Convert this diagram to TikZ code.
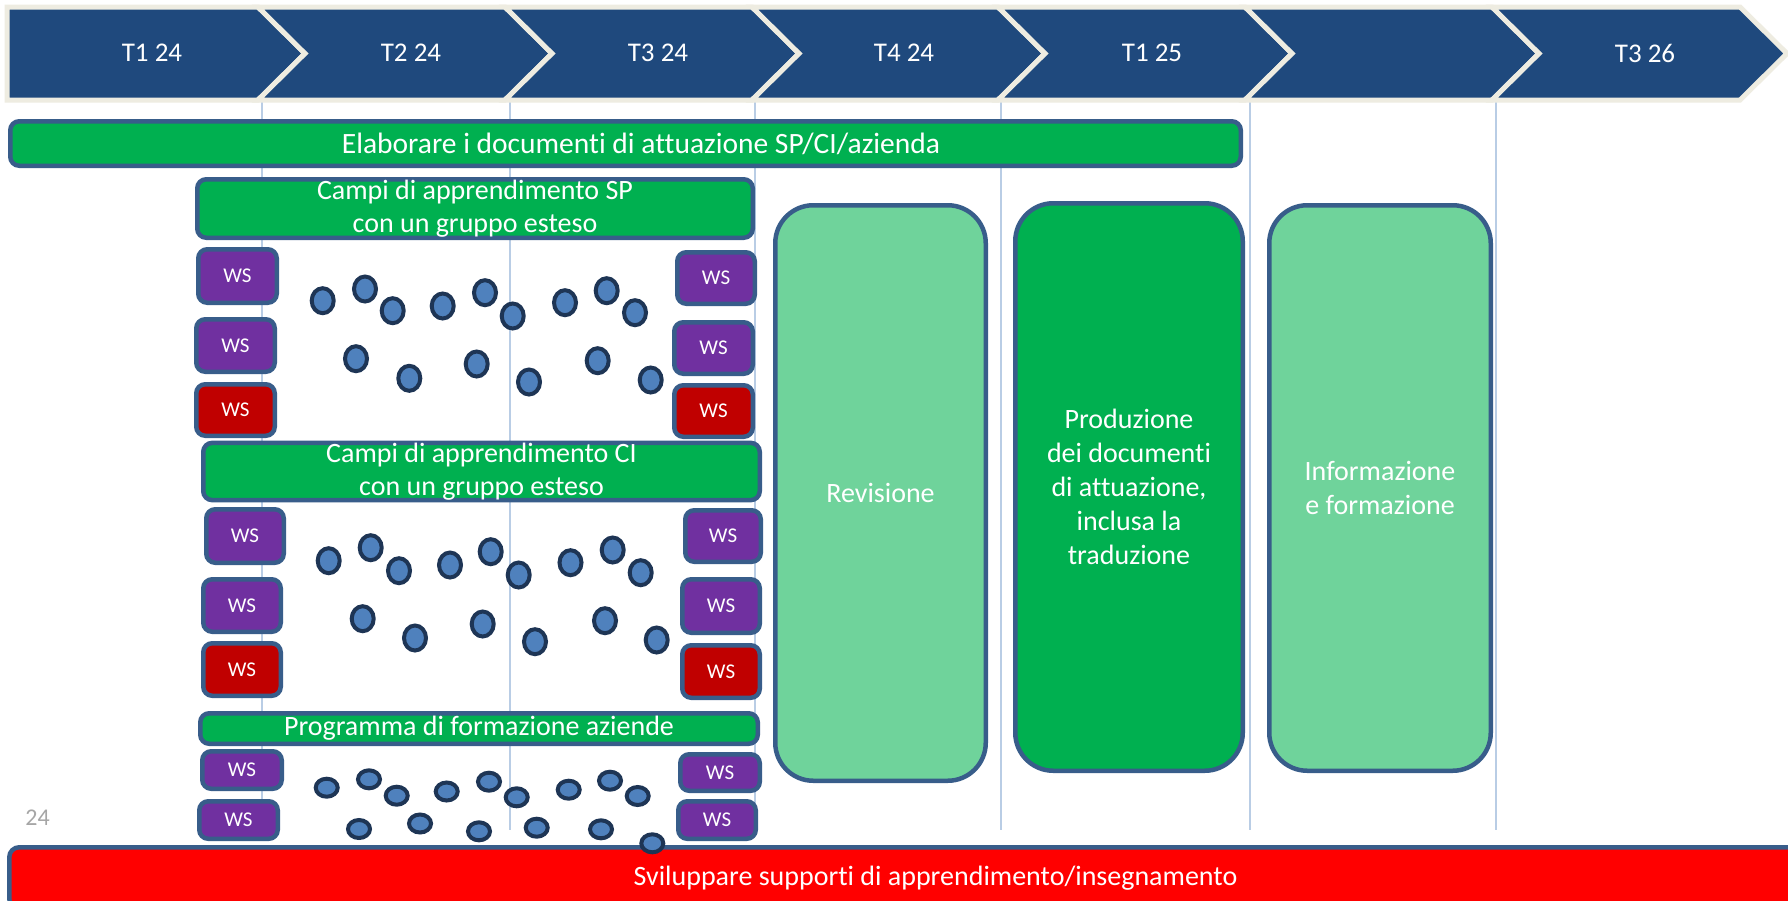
\documentclass[tikz,border=0pt]{standalone}
\usepackage{fontspec}
\setmainfont{Carlito}[Ligatures=NoCommon]
\usetikzlibrary{shapes.geometric}
\definecolor{chev}{HTML}{1F497D}
\definecolor{cream}{HTML}{EEECE1}
\definecolor{edge}{HTML}{385D8A}
\definecolor{grn}{HTML}{00B050}
\definecolor{mint}{HTML}{6FD39B}
\definecolor{wsp}{HTML}{7030A0}
\definecolor{wsr}{HTML}{C00000}
\definecolor{dotf}{HTML}{4F81BD}
\definecolor{dote}{HTML}{1E3555}
\definecolor{vln}{HTML}{B9CDE5}
\definecolor{pgnum}{HTML}{A6A6A6}
\newcommand\mybox[7]{\node[#1, minimum width={#5-#3-4.5}, minimum height={#6-#4-4.5}] (#2) at ({(#3+#5)/2},{(#4+#6)/2}) {#7};}
\begin{document}
\begin{tikzpicture}[x=1pt,y=-1pt,
  basebox/.style={draw=edge, line width=4.5pt, inner sep=0pt, outer sep=0pt, text=white, align=center},
  gbar/.style={basebox, fill=grn, rounded corners=9pt, font=\fontsize{28}{33}\selectfont},
  bigbox/.style={basebox, rounded corners=38pt, font=\fontsize{28}{34}\selectfont},
  wsbox/.style={basebox, rounded corners=9pt, font=\fontsize{21}{21}\selectfont},
  redbar/.style={basebox, fill=red, rounded corners=10pt, font=\fontsize{28}{33}\selectfont},
  chevshape/.style={fill=chev, draw=cream, line width=5pt, line join=miter},
  chevtxt/.style={text=white, font=\fontsize{27}{27}\selectfont, inner sep=0pt},
  dotsp/.style={ellipse, draw=dote, fill=dotf, line width=4pt, minimum width=22pt, minimum height=25pt, inner sep=0pt},
  dotaz/.style={ellipse, draw=dote, fill=dotf, line width=4pt, minimum width=22pt, minimum height=18pt, inner sep=0pt},
  vline/.style={draw=vln, line width=1.5pt}]
\useasboundingbox (0,0) rectangle (1788,900);
\clip (0,0) rectangle (1788,900);
\fill[white] (0,0) rectangle (1788,900);
% vertical grid lines
\foreach \x in {262,510,755,1001,1250,1496} \draw[vline] (\x,100) -- (\x,830);
% chevrons
\draw[chevshape] (7,7) -- (258,7) -- (305,53.5) -- (258,100) -- (7,100) -- cycle;
\foreach \l/\r in {258/505,505/752,752/998,998/1245,1245/1492,1492/1740}
  \draw[chevshape] (\l,7) -- (\r,7) -- ({\r+47},53.5) -- (\r,100) -- (\l,100) -- ({\l+47},53.5) -- cycle;
\node[chevtxt] (q1) at (152,53) {T1 24};
\node[chevtxt] (q2) at (411,53) {T2 24};
\node[chevtxt] (q3) at (658,53) {T3 24};
\node[chevtxt] (q4) at (904,53) {T4 24};
\node[chevtxt] (q5) at (1152,53) {T1 25};
\node[chevtxt] (q7) at (1645,53) {T3 26};
% top green bar
\mybox{gbar}{elab}{8}{119}{1243}{168}{\hspace*{31pt}\fontsize{29.5}{33}\selectfont Elaborare i documenti di attuazione SP/CI/azienda}
% SP block
\mybox{gbar}{campisp}{195}{177}{755}{240}{Campi di apprendimento SP\\con un gruppo esteso}
\mybox{wsbox, fill=wsp}{spl1}{196}{247}{279}{305}{WS}
\mybox{wsbox, fill=wsp}{spl2}{194}{317}{277}{374}{WS}
\mybox{wsbox, fill=wsr}{spl3}{194}{382}{277}{438}{WS}
\mybox{wsbox, fill=wsp}{spr1}{675}{250}{757}{306}{WS}
\mybox{wsbox, fill=wsp}{spr2}{672}{320}{755}{376}{WS}
\mybox{wsbox, fill=wsr}{spr3}{672}{383}{755}{439}{WS}
\foreach \x/\y [count=\i] in {322.7/300.7,365/289,392.7/310.7,442.7/306,485/292.7,512.7/316,565/302.7,606.7/290.7,635/312.7,356/358.7,409.3/378.3,476.7/364,529/382,597.7/360.7,650.7/380}
  \node[dotsp] (sp\i) at (\x,\y) {};
% CI block
\mybox{gbar}{campici}{201}{443}{762}{500}{Campi di apprendimento CI\\con un gruppo esteso}
\mybox{wsbox, fill=wsp}{cil1}{204}{507}{286}{565}{WS}
\mybox{wsbox, fill=wsp}{cil2}{201}{577}{283}{634}{WS}
\mybox{wsbox, fill=wsr}{cil3}{201}{641}{283}{698}{WS}
\mybox{wsbox, fill=wsp}{cir1}{683}{508}{763}{564}{WS}
\mybox{wsbox, fill=wsp}{cir2}{680}{577}{762}{635}{WS}
\mybox{wsbox, fill=wsr}{cir3}{680}{643}{762}{700}{WS}
\foreach \x/\y [count=\i] in {328.7/560.7,370.7/547.7,399/570.7,450/565,490.7/551.7,518.7/575,570.5/562.7,612.7/550,640.7/572.7,362.7/618.7,415/638,482.7/624,535/641.7,605/620.7,656.7/640}
  \node[dotsp] (ci\i) at (\x,\y) {};
% aziende block
\mybox{gbar}{prog}{198}{711}{760}{746}{Programma di formazione aziende}
\mybox{wsbox, fill=wsp}{azl1}{200}{749}{284}{791}{WS}
\mybox{wsbox, fill=wsp}{azl2}{197}{799}{280}{841}{WS}
\mybox{wsbox, fill=wsp}{azr1}{678}{752}{762}{793}{WS}
\mybox{wsbox, fill=wsp}{azr2}{676}{799}{758}{841}{WS}
\foreach \x/\y [count=\i] in {326.7/787.7,369/779.3,396.7/795.7,446.7/791.5,489/781.7,516.7/797.3,568.7/789.7,610/780.7,637.7/796,359/829,420/823.5,479/831.3,536.7/827.7,601/829.3}
  \node[dotaz] (az\i) at (\x,\y) {};
% big columns
\mybox{bigbox, fill=mint}{rev}{773}{203}{988}{783}{Revisione}
\mybox{bigbox, fill=grn}{prod}{1013}{201}{1245}{773}{Produzione\\dei documenti\\di attuazione,\\inclusa la\\traduzione}
\mybox{bigbox, fill=mint}{info}{1267}{203}{1493}{773}{Informazione\\e formazione}
% page number
\node[text=pgnum, font=\fontsize{24}{24}\selectfont, inner sep=0pt] (pg) at (37.6,817.6) {24};
% bottom red bar
\mybox{redbar}{dev}{7}{845}{1864}{911}{Sviluppare supporti di apprendimento/insegnamento}
\node[dotaz] (az15) at (652.3,843.3) {};
\end{tikzpicture}
\end{document}
